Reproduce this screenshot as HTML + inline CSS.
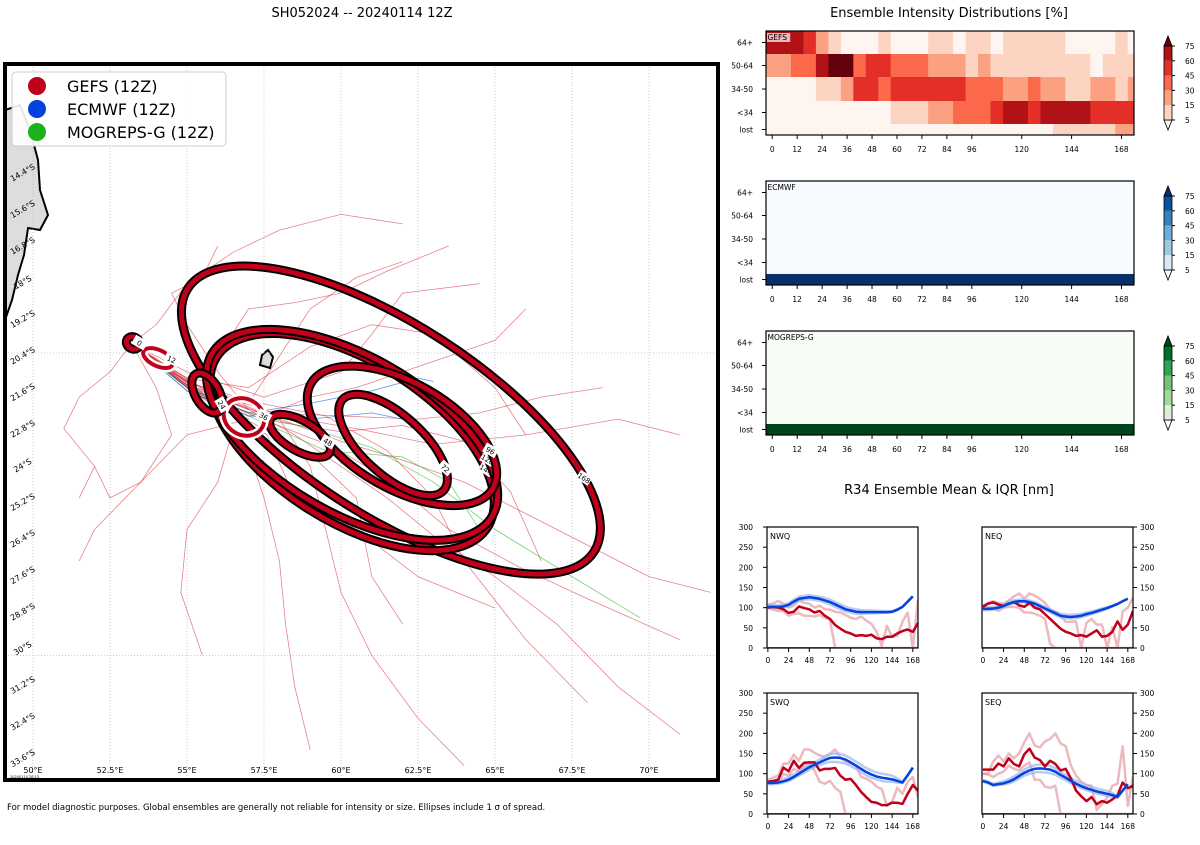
<!DOCTYPE html>
<html><head><meta charset="utf-8"><style>
body{margin:0;background:#fff;font-family:"Liberation Sans","DejaVu Sans",sans-serif}
svg text{font-family:"DejaVu Sans","Liberation Sans",sans-serif}
</style></head><body>
<svg id="s" width="1200" height="840" xmlns="http://www.w3.org/2000/svg">
<rect width="1200" height="840" fill="#fff"/>
<text x="362" y="17" font-size="13" text-anchor="middle">SH052024 -- 20240114 12Z</text>
<text x="949" y="17" font-size="13" text-anchor="middle">Ensemble Intensity Distributions [%]</text>
<text x="949" y="494" font-size="13" text-anchor="middle">R34 Ensemble Mean &amp; IQR [nm]</text>
<text x="7" y="810" font-size="8.5">For model diagnostic purposes. Global ensembles are generally not reliable for intensity or size. Ellipses include 1 σ of spread.</text>
<g id="map"></g>
<g id="heat"></g>
<g id="r34"></g>
</svg>
<script>
const NS="http://www.w3.org/2000/svg";
function mk(p,t,a,txt){const e=document.createElementNS(NS,t);for(const k in a)e.setAttribute(k,a[k]);if(txt!==undefined)e.textContent=txt;p.appendChild(e);return e;}
// ===== MAP DATA =====
const lonTicks=[50,52.5,55,57.5,60,62.5,65,67.5,70];
const latTicks=[14.4,15.6,16.8,18,19.2,20.4,21.6,22.8,24,25.2,26.4,27.6,28.8,30,31.2,32.4,33.6];
const gefsTracks=[
[[53.2,20.1],[54,20.8],[55.5,21.5],[57,22.2],[58.5,23],[60,24],[61.5,25],[63,26.2],[65,27.5],[67,29],[69,31],[71,32.5]],
[[53.2,20.1],[54.2,20.9],[55.6,21.8],[57,22.4],[58,22.2],[59,21.8],[60.5,21.5],[62,21],[63.5,20.5],[65,20],[66,19]],
[[53.2,20.1],[54.5,21],[56,22],[57,23.5],[57.5,25],[58,27],[58.2,29],[58.5,31],[59,33]],
[[53.2,20.1],[55,21.5],[57,22.5],[55,23],[53.5,24.5],[52,26],[51.5,27]],
[[53.2,20.1],[55,21.3],[57,22],[58,20.5],[59,19],[60.5,18],[62,17.5]],
[[53.2,20.1],[55.4,21.6],[58,22.5],[60,23.2],[62,23.8],[64,24.5],[66,25.5],[68,26.5],[70,27.5],[72,28]],
[[53.2,20.1],[55,21.4],[57,22.2],[56,21],[55,19.5],[54.5,18.5],[55.5,18],[56,17]],
[[53.2,20.1],[55.5,21.7],[58,22.5],[59,24],[59.5,26],[60,28],[61,30],[62.5,32],[64,33.5]],
[[53.2,20.1],[55.2,21.4],[57.4,22],[59.5,22.4],[61.5,23.5],[63,25],[64,27],[66,29.5],[68,31.5]],
[[53.2,20.1],[55,21.5],[56.5,22.8],[56,24.5],[55,26],[54.8,28],[55.5,30]],
[[53.2,20.1],[54,19.5],[55,18.2],[56.5,17.2],[58,16.5],[60,16],[62,16.3]],
[[53.2,20.1],[55,21.2],[57,21.5],[59,20.2],[61,19.5],[63,19.8],[65,21.5],[66,23]],
[[53.2,20.1],[54,21.5],[54.5,23],[53.5,24.5],[52.5,25],[52,24]],
[[53.2,20.1],[55.6,21.6],[57.5,22.3],[60.5,22.8],[63,23.3],[66,23],[69,22.5],[71,23]],
[[53.2,20.1],[55,21],[57.5,21.8],[60,21],[61,19.8],[62,18.5],[64.5,18.2]],
[[53.2,20.1],[55.3,21.7],[57.6,23],[58.5,25],[60.5,26],[62.5,27.5],[65,28.5]],
[[53.2,20.1],[55.5,21.8],[58,22.6],[60,22.9],[62,22.7],[64,23.2],[65.5,24.8],[66.5,27]],
[[53.2,20.1],[55.3,21.5],[57.8,22.3],[60,22.4],[62.5,22.5],[64.5,22.3],[66.5,21.8],[68.5,21.5]],
[[53.2,20.1],[55.6,21.9],[57.5,22.8],[59,23.6],[60.5,25],[61,27.5],[62,29]],
[[53.2,20.1],[55,21.2],[56,20.5],[57,19],[58.5,18.8],[60,18.5],[61.5,17.8],[63.5,17]],
[[53.2,20.1],[52.5,21],[51.5,21.8],[51,22.8],[52,24],[51.5,25]],
[[53.2,20.1],[55.4,21.7],[57.7,22.6],[59.8,23.4],[61.8,24.6],[63.5,26],[65.8,27.2],[68,28.2],[71,29.5]]];
const ecmwfTracks=[[[53.2,20.1],[55,21.5],[57,22.3],[59,22],[61,21.6],[62.5,21.2],[63,21.3]],[[53.2,20.1],[55,21.6],[57,22.4],[59,22.5],[61,22.3],[62.5,22.6]]];
const mogTracks=[[[53.2,20.1],[55,21.5],[57,22.3],[59,22.8],[61,23.4],[63,24.5],[65,26],[67.5,27.5],[69.7,28.8]],[[53.2,20.1],[55,21.6],[57,22.4],[59.5,23.5],[62,23.7],[63.5,24.5],[64.5,26]]];
// ellipses: center lon, center latS, semi-major px, semi-minor px, angle, label hour
const ellLon=[53.25,54.06,55.65,56.85,58.67,61.69,61.98,60.36,60.36,61.62];
const ellLat=[20.08,20.56,21.67,22.43,23.03,23.32,23.03,23.0,23.23,22.53];
const ellA=[7,16,22,21,34,68,105,162,160,242];
const ellB=[6,8,12,18,15,30,53,78,80,95];
const ellRot=[30,25,60,30,30,42,30,30,32,33];
const ellLbl=["0","12","24","36","48","72","96","120","144","168"];
const X=lon=>33+(lon-50)*30.8, Y=lat=>353+(lat-20.4)*31.5;
(function(){
const g=document.getElementById('map');
const cp=mk(g,'clipPath',{id:'mc'});mk(cp,'rect',{x:5,y:64,width:713,height:716});
const inner=mk(g,'g',{'clip-path':'url(#mc)'});
mk(inner,'rect',{x:5,y:64,width:713,height:716,fill:'#fff'});
let l=mk(inner,'path',{d:'M5,110 L20,105 L30,130 L38,160 L40,190 L48,215 L40,230 L28,228 L24,255 L18,275 L12,300 L5,320 Z',fill:'#ddd',stroke:'#000','stroke-width':2});

l=mk(inner,'path',{d:'M260,365 L262,355 L268,350 L273,357 L270,368 Z',fill:'#ddd',stroke:'#000','stroke-width':2});

lonTicks.forEach(v=>mk(inner,'line',{x1:X(v),x2:X(v),y1:64,y2:780,stroke:'#bbb','stroke-dasharray':'1,2','stroke-width':0.8}));
[20.4,30].forEach(v=>mk(inner,'line',{x1:5,x2:718,y1:Y(v),y2:Y(v),stroke:'#bbb','stroke-dasharray':'1,2','stroke-width':0.8}));
const pl=(tr,c,w,op,name)=>{const p=mk(inner,'polyline',{points:tr.map(q=>X(q[0])+','+Y(q[1])).join(' '),fill:'none',stroke:c,'stroke-width':w,opacity:op});};
gefsTracks.forEach(t=>pl(t,'#d9303f',0.8,0.6,'gefs-track'));
mogTracks.forEach(t=>pl(t,'#1db21d',0.8,0.6,'mogreps-track'));
ecmwfTracks.forEach(t=>pl(t,'#0044dd',0.8,0.6,'ecmwf-track'));
for(let i=ellLon.length-1;i>=0;i--){
 const cx=X(ellLon[i]),cy=Y(ellLat[i]);
 const eg=mk(inner,'g',{transform:`rotate(${ellRot[i]} ${cx} ${cy})`});
 
 const white=(i==3||i==1);
 if(!white)mk(eg,'ellipse',{cx,cy,rx:ellA[i],ry:ellB[i],fill:'none',stroke:'#000','stroke-width':9});
 else mk(eg,'ellipse',{cx,cy,rx:ellA[i],ry:ellB[i],fill:'none',stroke:'#fff','stroke-width':9});
 mk(eg,'ellipse',{cx,cy,rx:ellA[i],ry:ellB[i],fill:'none',stroke:'#c0001a','stroke-width':white?4:5});
 const tx=cx+ellA[i]*0.8,ty=cy-ellB[i]*0.6;
 mk(eg,'rect',{x:tx-7,y:ty-5,width:14,height:10,fill:'#fff'});
 mk(eg,'text',{x:tx,y:ty+3,'font-size':7,'text-anchor':'middle'},ellLbl[i]);
}
mk(g,'rect',{x:5,y:64,width:713,height:716,fill:'none',stroke:'#000','stroke-width':4});
lonTicks.forEach(v=>mk(g,'text',{x:X(v),y:773,'font-size':8,'text-anchor':'middle'},v+'°E'));
latTicks.forEach((v,i)=>{const y=175+i*36.6;mk(g,'text',{x:24,y:y,'font-size':8,'text-anchor':'middle',transform:`rotate(-30 24 ${y})`},v+'°S');});
mk(g,'text',{x:10,y:778,'font-size':3.5},'20240114 20:13');
const lg=mk(g,'g',{});
mk(lg,'rect',{x:12,y:72,width:214,height:74,rx:4,fill:'#fff',stroke:'#ccc','fill-opacity':0.9});
[['GEFS (12Z)','#c0001a'],['ECMWF (12Z)','#0044dd'],['MOGREPS-G (12Z)','#1db21d']].forEach((d,i)=>{
 const e=mk(lg,'g',{});
 mk(e,'circle',{cx:37,cy:86+i*23,r:9,fill:d[1]});mk(e,'text',{x:67,y:92+i*23,'font-size':16},d[0]);});
})();
// ===== HEATMAP DATA =====
const heatHours=[0,6,12,18,24,30,36,42,48,54,60,66,72,78,84,90,96,102,108,114,120,126,132,138,144,150,156,162,168,174];
const heatRows=["64+","50-64","34-50","<34","lost"];
const gefsBins=[
[5,5,5,4,2,1,0,0,0,1,0,0,0,1,1,0,1,1,0,1,1,1,1,1,0,0,0,0,1,0],
[2,2,3,3,5,6,6,3,4,4,3,3,3,2,2,2,1,2,1,1,1,1,1,1,1,1,0,1,1,1],
[0,0,0,0,1,1,2,4,4,3,4,4,4,4,4,4,3,3,3,2,2,3,2,2,1,1,2,2,1,2],
[0,0,0,0,0,0,0,0,0,0,1,1,1,2,2,3,3,3,4,5,5,4,5,5,5,5,4,4,4,4],
[0,0,0,0,0,0,0,0,0,0,0,0,0,0,0,0,0,0,0,0,0,0,0,1,1,1,1,1,2,2]];
const ecmwfBins=[[0,0,0,0,0,0,0,0,0,0,0,0,0,0,0,0,0,0,0,0,0,0,0,0,0,0,0,0,0,0],[0,0,0,0,0,0,0,0,0,0,0,0,0,0,0,0,0,0,0,0,0,0,0,0,0,0,0,0,0,0],[0,0,0,0,0,0,0,0,0,0,0,0,0,0,0,0,0,0,0,0,0,0,0,0,0,0,0,0,0,0],[0,0,0,0,0,0,0,0,0,0,0,0,0,0,0,0,0,0,0,0,0,0,0,0,0,0,0,0,0,0],[7,7,7,7,7,7,7,7,7,7,7,7,7,7,7,7,7,7,7,7,7,7,7,7,7,7,7,7,7,7]];
const mogBins=ecmwfBins;
const heatTicks=[0,12,24,36,48,60,72,84,96,120,144,168];
const cbLabels=["5","15","30","45","60","75"];
const reds=['#fff5f0','#fdd4c2','#fca082','#fb694a','#e32f27','#b11218','#67000d','#67000d'];
const blues=['#f7fbff','#dbe9f6','#9ecae1','#6baed6','#3182bd','#08519c','#08306b','#08306b'];
const greens=['#f7fcf5','#dbf1d5','#a1d99b','#74c476','#31a354','#006d2c','#00441b','#00441b'];
(function(){
const g=document.getElementById('heat');
const rowY=[0,23,46,70,93,104];
const panels=[[31,gefsBins,reds,'GEFS'],[181,ecmwfBins,blues,'ECMWF'],[331,mogBins,greens,'MOGREPS-G']];
const hx=h=>766+(h+3)*2.079;
panels.forEach(([top,bins,cm,name])=>{
 const pg=mk(g,'g',{});
 const cid='hc'+top;const cp=mk(pg,'clipPath',{id:cid});mk(cp,'rect',{x:766,y:top,width:368,height:104});
 const cg=mk(pg,'g',{'clip-path':`url(#${cid})`});
 bins.forEach((row,r)=>row.forEach((v,c)=>{const h=heatHours[c];const rc=mk(cg,'rect',{x:hx(h-3),y:top+rowY[r],width:hx(h+3)-hx(h-3)+0.5,height:rowY[r+1]-rowY[r]+0.5,fill:cm[v]});
  }));
 mk(pg,'rect',{x:766,y:top,width:368,height:104,fill:'none',stroke:'#000','stroke-width':1.2});
 mk(pg,'rect',{x:767,y:top+2,width:name.length*5.3+2,height:9,fill:'#fff',opacity:name=='GEFS'?0.7:0});
 mk(pg,'text',{x:767.5,y:top+9,'font-size':7.5},name);
 heatRows.forEach((t,r)=>{const y=top+(rowY[r]+rowY[r+1])/2;mk(pg,'line',{x1:762,x2:766,y1:y,y2:y,stroke:'#000'});mk(pg,'text',{x:753,y:y+3,'font-size':7.5,'text-anchor':'end'},t);});
 heatTicks.forEach(h=>{mk(pg,'line',{x1:hx(h),x2:hx(h),y1:top+104,y2:top+108,stroke:'#000'});mk(pg,'text',{x:hx(h),y:top+121,'font-size':7.5,'text-anchor':'middle'},h);});
 const cb=mk(pg,'g',{});
 const cx=1164,cw=8,t0=top+15,t1=top+89,seg=(t1-t0)/5;
 mk(cb,'polygon',{points:`${cx},${t1} ${cx+cw},${t1} ${cx+cw/2},${t1+10}`,fill:cm[0],stroke:'#000','stroke-width':0.8});
 mk(cb,'polygon',{points:`${cx},${t0} ${cx+cw},${t0} ${cx+cw/2},${t0-10}`,fill:cm[6],stroke:'#000','stroke-width':0.8});
 for(let k=0;k<5;k++)mk(cb,'rect',{x:cx,y:t1-seg*(k+1),width:cw,height:seg,fill:cm[k+1]});
 mk(cb,'rect',{x:cx,y:t0,width:cw,height:t1-t0,fill:'none',stroke:'#000','stroke-width':0.8});
 cbLabels.forEach((t,k)=>{const y=t1-seg*k;mk(cb,'line',{x1:cx+cw,x2:cx+cw+3,y1:y,y2:y,stroke:'#000'});mk(cb,'text',{x:cx+cw+13,y:y+3,'font-size':7.5},t);});
});
})();
// ===== R34 DATA =====
const r34Hours=[0,6,12,18,24,30,36,42,48,54,60,66,72,78,84,90,96,102,108,114,120,126,132,138,144,150,156,162,168,174];
const nwqRed=[100,102,100,96,87,90,103,99,96,88,92,80,72,57,48,40,36,30,32,30,33,24,22,28,28,36,42,46,40,62];
const nwqRedHi=[108,110,117,110,100,105,118,112,110,100,105,96,95,90,88,82,75,72,78,68,60,40,5,55,28,30,65,88,0,120];
const nwqRedLo=[100,95,92,92,80,85,86,80,80,78,82,75,70,0,0,0,0,0,0,0,0,0,0,0,0,0,0,0,0,0];
const nwqBlue=[102,102,102,103,107,115,122,124,126,124,122,118,114,108,102,96,93,90,89,89,89,89,89,89,90,95,102,115,128];
const nwqBlueHi=[106,106,106,107,111,120,127,129,131,129,127,124,120,114,108,102,98,96,94,93,93,92,92,91,91,96,102,115,128];
const nwqBlueLo=[99,99,99,100,104,111,118,120,121,119,117,113,108,102,96,91,88,85,85,85,86,86,87,87,89,94,102,115,128];
const neqRed=[102,110,113,108,104,110,114,106,102,112,100,96,84,72,60,48,40,36,30,32,28,36,44,28,30,40,66,45,58,92];
const neqRedHi=[106,112,116,112,110,118,128,135,122,135,130,122,112,95,90,80,65,65,66,0,62,72,58,58,0,52,0,90,100,125];
const neqRedLo=[100,100,98,92,100,102,102,100,88,88,85,80,72,10,0,0,0,0,0,0,0,0,0,0,0,0,0,0,0,0];
const neqBlue=[97,97,98,100,104,110,114,116,116,114,110,104,98,92,86,80,78,77,78,80,84,87,91,95,99,104,109,116,122];
const neqBlueHi=[101,101,102,104,108,114,118,120,120,118,114,108,102,96,90,85,83,82,83,85,88,91,94,98,101,105,110,116,122];
const neqBlueLo=[94,94,95,97,101,107,111,113,113,111,107,101,95,88,82,76,74,73,74,76,80,84,88,92,97,103,109,116,122];
const swqRed=[80,82,85,115,106,132,114,127,128,128,108,112,112,114,95,85,87,72,55,42,30,28,22,22,28,28,25,50,72,58];
const swqRedHi=[85,90,95,125,125,147,132,160,160,152,145,142,150,160,140,130,125,120,92,88,80,68,62,20,30,65,50,80,92,40];
const swqRedLo=[82,78,80,100,95,112,105,120,125,108,80,75,82,65,55,0,0,0,0,0,0,0,0,0,0,0,0,0,0,0];
const swqBlue=[77,77,78,81,85,92,100,108,116,122,128,134,139,140,139,135,128,120,112,104,98,93,90,88,86,82,78,96,115];
const swqBlueHi=[80,80,82,86,91,98,106,114,121,128,135,142,148,150,149,145,138,130,122,114,108,103,100,98,95,88,80,96,115];
const swqBlueLo=[74,74,75,78,82,88,95,102,110,116,121,126,129,129,128,125,119,112,104,96,90,86,82,80,80,78,77,96,115];
const seqRed=[110,110,110,125,118,138,124,118,148,162,140,134,118,132,124,108,112,88,58,44,32,42,24,32,28,36,46,78,64,70];
const seqRedHi=[100,100,130,145,130,150,138,150,178,200,170,165,180,186,200,175,168,120,95,80,72,70,10,25,40,70,75,168,20,92];
const seqRedLo=[100,98,92,100,105,120,112,108,120,128,85,85,68,65,70,0,0,0,0,0,0,0,0,0,0,0,0,0,0,0];
const seqBlue=[82,78,72,74,76,80,86,94,102,108,112,113,112,110,105,97,90,82,75,69,64,60,56,53,50,47,42,58,74];
const seqBlueHi=[84,80,75,78,81,86,93,101,110,117,121,123,122,119,113,105,97,89,82,76,71,67,63,60,57,52,44,58,74];
const seqBlueLo=[80,76,70,72,73,76,81,88,95,100,103,104,103,101,97,90,84,77,70,64,59,55,51,48,45,43,41,58,74];
const r34YTicks=[0,50,100,150,200,250,300];
const r34XTicks=[0,24,48,72,96,120,144,168];
(function(){
const g=document.getElementById('r34');
const panels=[
 ['NWQ',767,527,nwqRed,nwqRedHi,nwqRedLo,nwqBlue,nwqBlueHi,nwqBlueLo,'left'],
 ['NEQ',982,527,neqRed,neqRedHi,neqRedLo,neqBlue,neqBlueHi,neqBlueLo,'right'],
 ['SWQ',767,693,swqRed,swqRedHi,swqRedLo,swqBlue,swqBlueHi,swqBlueLo,'left'],
 ['SEQ',982,693,seqRed,seqRedHi,seqRedLo,seqBlue,seqBlueHi,seqBlueLo,'right']];
panels.forEach(([nm,x0,y0,rm,rh,rl,bm,bh,bl,side])=>{
 const W=151,H=121;
 const pg=mk(g,'g',{});
 const sx=h=>x0+(h+1)*W/175, sy=v=>y0+H-v*H/300;
 const cid='rc'+nm;const cp=mk(pg,'clipPath',{id:cid});mk(cp,'rect',{x:x0,y:y0,width:W,height:H});
 const cg=mk(pg,'g',{'clip-path':`url(#${cid})`});
 const line=(arr,c,w,op,name)=>{const p=mk(cg,'polyline',{points:arr.map((v,i)=>sx(r34Hours[i])+','+sy(v)).join(' '),fill:'none',stroke:c,'stroke-width':w,opacity:op,'stroke-linejoin':'round'});};
 line(r34Hours.map(()=>0),'#1db21d',2,1,'mogreps-mean');
 line(rh,'#e08a95',2.5,0.6,'gefs-iqr-upper');line(rl,'#e08a95',2.5,0.6,'gefs-iqr-lower');
 line(bh,'#9db4f0',2.5,0.7,'ecmwf-iqr-upper');line(bl,'#9db4f0',2.5,0.7,'ecmwf-iqr-lower');
 line(rm,'#c0001a',2.5,1,'gefs-mean');line(bm,'#0044dd',2.5,1,'ecmwf-mean');
 mk(pg,'rect',{x:x0,y:y0,width:W,height:H,fill:'none',stroke:'#000','stroke-width':1.2});
 mk(pg,'text',{x:x0+3,y:y0+12,'font-size':8},nm);
 r34YTicks.forEach(v=>{const y=sy(v);if(side=='left'){mk(pg,'line',{x1:x0-4,x2:x0,y1:y,y2:y,stroke:'#000'});mk(pg,'text',{x:x0-14,y:y+3,'font-size':7.5,'text-anchor':'end'},v);}
  else{mk(pg,'line',{x1:x0+W,x2:x0+W+4,y1:y,y2:y,stroke:'#000'});mk(pg,'text',{x:x0+W+7,y:y+3,'font-size':7.5},v);}});
 r34XTicks.forEach(h=>{mk(pg,'line',{x1:sx(h),x2:sx(h),y1:y0+H,y2:y0+H+4,stroke:'#000'});mk(pg,'text',{x:sx(h),y:y0+H+15,'font-size':7.5,'text-anchor':'middle'},h);});
});
})();
</script>
</body></html>
